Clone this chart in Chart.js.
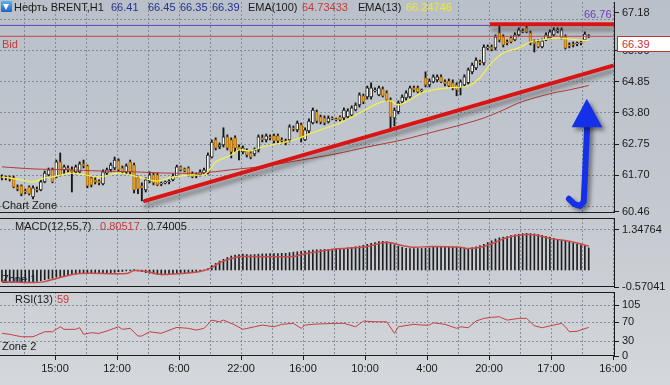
<!DOCTYPE html>
<html><head><meta charset="utf-8">
<script src="https://cdn.jsdelivr.net/npm/chart.js@4.4.1/dist/chart.umd.min.js"></script>
<style>
html,body{margin:0;padding:0;}
body{width:670px;height:385px;overflow:hidden;position:relative;
 background:linear-gradient(180deg,#b9c0c9 0%,#c3c8cf 50%,#d4d7db 100%);
 font-family:"Liberation Sans",Arial,sans-serif;font-size:11px;color:#1a1a1a;}
canvas{position:absolute;left:0;}
.t{position:absolute;white-space:nowrap;line-height:12px;font-size:11px;}
#icon{position:absolute;left:1px;top:1px;width:11px;height:11px;background:linear-gradient(#5eb0f0,#1c64c4);border-radius:1px;}
#icon:after{content:"";position:absolute;left:2px;top:3px;border-left:3.5px solid transparent;border-right:3.5px solid transparent;border-top:6px solid #fff;}
#pbox{position:absolute;left:617px;top:36px;width:51px;height:14px;background:#fff;border:1px solid #c03434;color:#c03434;line-height:14px;padding-left:4px;box-sizing:content-box;}
</style></head><body>
<div class="t" style="left:2px;top:273px;">Zone 1</div>
<canvas id="cMain" width="670" height="250" style="top:-20px"></canvas>
<canvas id="cMacd" width="670" height="100" style="top:200px"></canvas>
<canvas id="cRsi" width="670" height="115" style="top:270px"></canvas>

<div id="icon"></div>
<div class="t" style="left:14px;top:1px;">Нефть BRENT,H1</div>
<div class="t" style="left:111px;top:1px;color:#26308c">66.41</div>
<div class="t" style="left:148px;top:1px;color:#26308c">66.45</div>
<div class="t" style="left:180px;top:1px;color:#26308c">66.35</div>
<div class="t" style="left:212px;top:1px;color:#26308c">66.39</div>
<div class="t" style="left:248px;top:1px;">EMA(100)</div>
<div class="t" style="left:302px;top:1px;color:#c83a3a">64.73433</div>
<div class="t" style="left:358px;top:1px;">EMA(13)</div>
<div class="t" style="left:406px;top:1px;color:#ecea2c">66.24746</div>
<div class="t" style="left:584px;top:8px;color:#6a3db8">66.76</div>
<div class="t" style="left:2px;top:38px;color:#c83a3a">Bid</div>
<div class="t" style="left:2px;top:199px;">Chart Zone</div>
<div class="t" style="left:15px;top:220px;">MACD(12,55,7)</div>
<div class="t" style="left:100px;top:220px;color:#c83a3a">0.80517</div>
<div class="t" style="left:147px;top:220px;">0.74005</div>
<div class="t" style="left:15px;top:293px;">RSI(13)</div>
<div class="t" style="left:57px;top:293px;color:#c83a3a">59</div>
<div class="t" style="left:2px;top:340px;">Zone 2</div>
<div id="pbox">66.39</div>

<script>
// ---------- DATA ----------
const xTickLabels = ['15:00','12:00','6:00','22:00','16:00','10:00','4:00','20:00','17:00','16:00'];

const opens = [61.64,61.61,61.64,61.61,61.30,61.34,61.17,61.30,60.96,61.23,
61.20,61.47,61.71,61.88,61.64,62.15,61.88,61.94,61.88,61.81,
61.81,62.08,62.01,61.61,61.54,61.50,61.40,61.77,61.88,61.94,
62.18,61.94,61.81,62.15,62.04,61.61,61.34,61.20,61.50,61.71,
61.71,61.40,61.44,61.47,61.54,61.67,61.98,61.91,61.94,61.74,
61.67,61.71,61.77,61.77,62.31,62.89,62.65,62.72,62.99,62.89,
62.96,62.65,62.48,62.55,62.45,62.42,62.55,62.96,62.89,62.99,
63.03,63.03,62.89,62.86,62.89,63.30,63.23,63.40,62.89,63.19,
63.46,63.84,63.67,63.63,63.50,63.63,63.60,63.67,63.63,63.67,
63.73,63.90,64.07,64.38,64.34,64.34,64.55,64.41,64.61,64.48,
64.24,63.63,63.84,64.17,64.31,64.34,64.65,64.65,64.55,64.99,
64.75,64.85,64.92,65.02,64.85,64.88,64.82,64.75,64.65,64.75,
64.82,65.19,65.32,65.53,65.49,66.00,66.03,66.00,66.51,66.37,
66.20,66.34,66.27,66.44,66.57,66.68,66.51,66.20,66.20,66.03,
66.27,66.34,66.44,66.57,66.34,66.37,66.10,66.13,66.13,66.20,
66.27,66.41];
const closes = [61.61,61.64,61.57,61.30,61.23,61.07,61.13,61.07,61.27,61.20,
61.47,61.77,61.88,61.47,62.15,61.71,61.98,61.88,61.81,61.98,
62.08,62.01,61.34,61.37,61.47,61.44,61.81,61.88,62.04,62.21,
61.88,61.81,62.01,61.81,61.20,61.23,61.27,61.54,61.71,61.44,
61.37,61.42,61.47,61.50,61.67,61.98,61.88,61.84,61.71,61.64,
61.71,61.81,61.88,62.38,62.82,62.62,62.72,62.99,62.62,62.48,
62.62,62.55,62.62,62.38,62.31,62.55,62.99,62.89,63.03,62.96,
62.86,62.86,62.86,62.79,63.33,63.26,63.46,62.96,63.23,63.53,
63.90,63.53,63.50,63.46,63.63,63.60,63.57,63.57,63.90,63.87,
63.97,64.07,64.41,64.17,64.65,64.65,64.58,64.65,64.38,64.24,
63.67,63.90,64.14,64.34,64.48,64.65,64.58,64.51,64.58,64.75,
64.88,65.02,65.02,64.85,64.78,64.71,64.65,64.58,64.85,65.02,
65.26,65.42,65.59,65.49,66.03,66.03,65.96,66.37,66.27,66.10,
66.17,66.20,66.44,66.61,66.54,66.54,66.17,66.13,66.03,66.24,
66.44,66.54,66.61,66.61,66.61,66.00,66.07,66.10,66.17,66.17,
66.47,66.39];
const highs = [61.71,61.67,61.67,61.67,61.37,61.37,61.23,61.34,61.34,61.30,
61.54,61.84,61.94,61.94,62.21,62.45,62.04,62.01,61.98,62.04,
62.15,62.21,62.04,61.64,61.61,61.54,61.88,61.94,62.11,62.31,
62.25,62.01,62.08,62.21,62.11,61.67,61.44,61.61,61.81,61.77,
61.77,61.47,61.50,61.54,61.74,62.04,62.01,61.94,61.98,61.81,
61.77,61.88,61.94,62.45,62.89,62.96,62.79,63.30,63.06,62.96,
63.03,62.72,62.69,62.59,62.52,62.62,63.06,63.06,63.09,63.06,
63.09,63.09,62.96,62.92,63.40,63.36,63.53,63.46,63.30,63.60,
63.97,63.90,63.73,63.70,63.70,63.67,63.63,63.70,63.97,63.94,
64.04,64.14,64.48,64.44,64.71,64.82,64.65,64.71,64.68,64.55,
64.31,63.97,64.21,64.41,64.55,64.71,64.71,64.71,64.61,65.19,
64.95,65.09,65.09,65.09,64.92,64.95,64.92,64.82,64.92,65.09,
65.32,65.49,65.66,65.59,66.10,66.10,66.10,66.44,66.78,66.44,
66.27,66.40,66.51,66.68,66.64,66.74,66.57,66.27,66.27,66.30,
66.51,66.61,66.68,66.68,66.68,66.44,66.17,66.20,66.20,66.24,
66.54,66.45];
const lows = [61.54,61.54,61.50,61.27,61.17,61.00,61.07,61.03,60.90,61.13,
61.17,61.44,61.67,61.44,61.61,61.67,61.74,61.81,61.13,61.74,
61.77,61.94,61.27,61.30,61.40,61.37,61.37,61.71,61.81,61.88,
61.81,61.74,61.74,61.74,61.10,61.07,60.83,61.13,61.44,61.37,
61.34,61.34,61.40,61.40,61.50,61.64,61.84,61.81,61.67,61.61,
61.61,61.67,61.74,61.74,62.28,62.55,62.59,62.65,62.55,62.28,
62.48,62.21,62.42,62.31,62.25,62.35,62.48,62.82,62.82,62.89,
62.79,62.79,62.79,62.72,62.82,63.19,63.16,62.82,62.86,63.13,
63.43,63.46,63.43,63.40,63.46,63.57,63.53,63.53,63.57,63.63,
63.70,63.87,64.00,64.11,64.27,64.27,64.51,64.38,64.34,64.21,
63.23,63.36,63.77,64.11,64.24,64.31,64.51,64.48,64.48,64.68,
64.68,64.82,64.85,64.82,64.71,64.68,64.58,64.38,64.41,64.71,
64.78,65.12,65.26,65.42,65.42,65.93,65.90,65.93,66.20,66.03,
66.10,66.17,66.24,66.40,66.51,66.51,66.10,65.86,66.00,66.00,
66.24,66.30,66.40,66.51,66.30,65.96,66.00,66.03,66.07,66.10,
66.24,66.35];

// [candle index, value]
const ema13 = [[0,61.64],[5,61.54],[8,61.47],[11,61.61],[13,61.64],[18,61.77],[25,61.64],[30,61.77],
[35,61.64],[40,61.50],[44,61.64],[49,61.71],[52,61.71],[54,61.98],[55,62.15],[59,62.38],[61,62.55],
[64,62.52],[67,62.65],[72,62.79],[76,62.92],[79,63.09],[82,63.23],[87,63.46],[92,63.80],[97,64.14],
[100,64.21],[102,64.07],[105,64.24],[108,64.48],[111,64.58],[115,64.65],[120,64.71],[123,64.99],
[126,65.49],[129,65.83],[133,66.00],[136,66.20],[139,66.27],[143,66.34],[146,66.30],[148,66.27],[151,66.25]];
const ema100 = [[0,61.98],[8,61.91],[17,61.88],[25,61.84],[34,61.81],[42,61.77],[51,61.77],[59,61.88],
[68,62.01],[77,62.21],[86,62.42],[94,62.65],[103,62.89],[111,63.16],[117,63.36],[124,63.63],[129,63.90],
[133,64.14],[137,64.31],[142,64.48],[146,64.58],[151,64.73]];

const macdHist = [-0.38,-0.39,-0.40,-0.40,-0.39,-0.40,-0.41,-0.41,-0.40,-0.38,
-0.36,-0.33,-0.30,-0.28,-0.24,-0.22,-0.20,-0.18,-0.16,-0.14,
-0.12,-0.10,-0.11,-0.12,-0.12,-0.12,-0.11,-0.10,-0.10,-0.08,
-0.06,-0.05,-0.03,-0.02,0.01,-0.03,-0.06,-0.09,-0.11,-0.13,
-0.15,-0.16,-0.15,-0.14,-0.13,-0.12,-0.11,-0.10,-0.09,-0.08,
-0.07,-0.05,-0.02,0.05,0.15,0.22,0.30,0.36,0.42,0.47,
0.50,0.52,0.53,0.52,0.51,0.52,0.53,0.54,0.54,0.55,
0.55,0.55,0.56,0.56,0.58,0.60,0.61,0.63,0.63,0.65,
0.67,0.68,0.68,0.69,0.69,0.70,0.72,0.72,0.73,0.74,
0.76,0.78,0.80,0.83,0.86,0.89,0.92,0.95,0.96,0.95,
0.90,0.85,0.80,0.76,0.73,0.72,0.72,0.72,0.72,0.73,
0.74,0.76,0.78,0.78,0.78,0.78,0.77,0.77,0.76,0.74,
0.72,0.74,0.78,0.82,0.86,0.92,0.98,1.04,1.08,1.10,
1.12,1.15,1.18,1.20,1.22,1.23,1.22,1.21,1.19,1.16,
1.13,1.10,1.06,1.03,1.00,0.96,0.93,0.90,0.87,0.84,
0.80,0.74];
const macdSignal = [[0,-0.39],[8,-0.42],[11,-0.39],[15,-0.25],[20,-0.12],[32,-0.12],[34,-0.02],[37,-0.05],
[41,-0.15],[46,-0.12],[51,-0.05],[54,0.08],[56,0.25],[60,0.42],[62,0.45],[75,0.45],[77,0.52],[85,0.69],
[94,0.79],[99,0.93],[103,0.82],[106,0.76],[111,0.79],[118,0.76],[120,0.72],[124,0.79],[127,0.93],
[130,1.09],[135,1.19],[138,1.16],[141,1.06],[146,0.96],[151,0.805]];

const rsi = [[0,46.7],[2,44.7],[5,39.7],[8,39.7],[11,50],[13,50],[15,60.3],[16,55],[19,55],[20,58.3],
[21,44.7],[23,48],[25,46.7],[27,51.5],[30,60.3],[31,55],[33,57],[35,41.2],[36,41.2],[38,50],[41,46.7],
[42,50],[45,59],[48,57],[50,53.5],[52,57],[54,74],[56,70.6],[57,74],[60,63.8],[62,55],[65,60.3],[67,63.8],
[70,60.3],[72,65.3],[75,67.3],[77,57],[78,63.8],[81,65.9],[86,67.3],[88,67.3],[91,60.3],[93,72],[96,70.6],
[99,70.6],[101,46.7],[102,60.3],[106,65.3],[108,63.8],[110,63.8],[111,68.6],[114,65.3],[117,57],[118,60.3],
[120,58.3],[122,72],[124,77.6],[126,79.7],[128,81],[130,74],[133,77.6],[135,77.6],[137,62.4],[139,58.3],
[142,63.8],[144,67.3],[145,60.3],[146,50],[148,51],[151,59]];

const priceGridLevels = [60.65,61.70,62.75,63.80,64.85,65.90,66.95];
const priceLabelLevels = [60.46,61.70,62.75,63.80,64.85,65.90,67.18];
const macdLevels = [-0.57041,1.34764];
const rsiLevels = [0,30,70,105];
const rsiGridLevels = [30,70,105];
const bidLevel = 66.39;
const highLevel = 66.76;
const trendLine = [[36.8,60.83],[157.0,65.39]];
const resistLine = [[125.6,66.80],[157.5,66.80]];
const arrowShaft = [[145.9,60.90],[147.3,60.72],[148.8,60.66],[149.7,60.80],[150.0,61.60],[150.3,62.50],[150.6,63.40]];
const arrowHead = [[146.6,63.32],[150.5,64.28],[154.5,63.32]];

// ---------- STYLE ----------
const GRID = 'rgba(120,130,145,0.85)';
const AXIS = '#1c1c1c';
const TXT = '#1a1a1a';
const CLEAR = 'rgba(0,0,0,0)';
const X_MIN = -0.5, X_MAX = 157.5, GRID_START = 5.68, GRID_STEP = 7.977, GRID_COUNT = 20;
Chart.defaults.font.family = '"Liberation Sans", Arial, sans-serif';
Chart.defaults.font.size = 11;
Chart.defaults.color = TXT;

const pts = arr => arr.map(p => ({x: p[0], y: p[1]}));

function xScale(showLabels){
  return {
    type:'linear', min:X_MIN, max:X_MAX, offset:false,
    afterBuildTicks: s => { s.ticks = Array.from({length:GRID_COUNT}, (_, k) => ({value: GRID_START + k*GRID_STEP})); },
    afterFit: s => { s.height = showLabels ? 29 : 0; },
    border:{display:false, dash:[2,2]},
    grid:{color:GRID, lineWidth:1, drawTicks:showLabels, tickLength:4, tickWidth:1,
      tickColor: c => (c.index % 2 === 1) ? AXIS : CLEAR, offset:false},
    ticks:{display:showLabels, autoSkip:false, maxRotation:0, minRotation:0, padding:2, color:TXT,
      callback:(v, i) => (i % 2 === 1) ? xTickLabels[(i-1)/2] : ''}
  };
}
function yScale(min, max, tickVals, gridVals, fmt){
  return {
    position:'right', min, max, beginAtZero:false,
    afterFit: s => { s.width = 56; },
    afterBuildTicks: s => { s.ticks = tickVals.map(v => ({value:v})); },
    border:{display:false, dash:[2,2]},
    grid:{color: c => (c.tick && gridVals.includes(c.tick.value)) ? GRID : CLEAR,
      drawTicks:true, tickLength:5, tickWidth:1, tickColor: c => (c.tick && fmt(c.tick.value) !== '') ? AXIS : CLEAR},
    ticks:{autoSkip:false, padding:3, color:TXT, callback: v => fmt(v)}
  };
}
const panelBorder = {
  id:'panelBorder',
  afterDraw(chart, args, o){
    const {ctx, chartArea:a} = chart;
    ctx.save(); ctx.strokeStyle = AXIS; ctx.lineWidth = 1; ctx.beginPath();
    if (o.top){ ctx.moveTo(0, Math.round(a.top)+0.5); ctx.lineTo(a.right, Math.round(a.top)+0.5); }
    if (o.bottom){ ctx.moveTo(0, Math.round(a.bottom)-0.5); ctx.lineTo(a.right, Math.round(a.bottom)-0.5); }
    ctx.moveTo(Math.round(a.right)+0.5, a.top); ctx.lineTo(Math.round(a.right)+0.5, a.bottom);
    ctx.stroke(); ctx.restore();
  }
};
const shadowPlugin = {
  id:'shadowLines',
  beforeDatasetDraw(chart, args){
    const ds = chart.data.datasets[args.index];
    if (ds.shadow){ const c = chart.ctx; c.save(); c.shadowColor='rgba(40,40,40,0.45)'; c.shadowOffsetX=1; c.shadowOffsetY=5; c.shadowBlur=4; }
  },
  afterDatasetDraw(chart, args){
    const ds = chart.data.datasets[args.index];
    if (ds.shadow) chart.ctx.restore();
  }
};
const arrowPlugin = {
  id:'arrow',
  afterDatasetsDraw(chart){
    const {ctx, scales:{x, y}} = chart;
    const P = p => [x.getPixelForValue(p[0]), y.getPixelForValue(p[1])];
    ctx.save();
    ctx.shadowColor='rgba(0,0,0,0.45)'; ctx.shadowOffsetX=3; ctx.shadowOffsetY=3; ctx.shadowBlur=4;
    ctx.strokeStyle='#1430e8'; ctx.fillStyle='#1430e8';
    ctx.lineWidth=6; ctx.lineCap='round'; ctx.lineJoin='round';
    ctx.beginPath();
    arrowShaft.forEach((p,i) => { const [px,py] = P(p); i ? ctx.lineTo(px,py) : ctx.moveTo(px,py); });
    ctx.stroke();
    ctx.beginPath();
    arrowHead.forEach((p,i) => { const [px,py] = P(p); i ? ctx.lineTo(px,py) : ctx.moveTo(px,py); });
    ctx.closePath(); ctx.fill();
    ctx.restore();
  }
};
const base = {responsive:false, animation:false, events:[], plugins:{legend:{display:false}, tooltip:{enabled:false}}};

// ---------- MAIN PRICE PANEL ----------
const bull = '#ffffff', bear = '#eea22c';
new Chart(document.getElementById('cMain'), {
  type:'bar',
  data:{datasets:[
    {type:'line', data:pts(trendLine), borderColor:'#d81414', borderWidth:4, pointRadius:0, shadow:true, order:0, borderCapStyle:'round'},
    {type:'line', data:pts(resistLine), borderColor:'#d81414', borderWidth:4, pointRadius:0, shadow:true, order:0},
    {type:'line', data:[{x:X_MIN,y:highLevel},{x:X_MAX,y:highLevel}], borderColor:'#6a3db8', borderWidth:1, pointRadius:0, order:1},
    {type:'line', data:[{x:X_MIN,y:bidLevel},{x:X_MAX,y:bidLevel}], borderColor:'#c84444', borderWidth:1, pointRadius:0, order:1},
    {type:'line', data:pts(ema13), borderColor:'#f4f24a', borderWidth:1.2, pointRadius:0, tension:0.3, order:2},
    {type:'line', data:pts(ema100), borderColor:'#b33636', borderWidth:1, pointRadius:0, tension:0.3, order:2},
    {type:'bar', data:opens.map((o,i)=>({x:i, y:[o, closes[i]]})), barThickness:3, grouped:false,
      backgroundColor:opens.map((o,i)=> closes[i] >= o ? bull : bear),
      borderColor:opens.map((o,i)=> closes[i] >= o ? '#262626' : '#a8700f'),
      borderWidth:1, borderSkipped:false, order:4},
    {type:'bar', data:highs.map((h,i)=>({x:i, y:[lows[i], h]})), barThickness:1.2, grouped:false,
      backgroundColor:'#151515', borderWidth:0, order:5}
  ]},
  options:Object.assign({}, base, {
    layout:{padding:{top:22, bottom:17, left:0, right:0}},
    scales:{
      x:xScale(false),
      y:yScale(60.42, 67.55, [60.46,60.65,61.70,62.75,63.80,64.85,65.90,66.95,67.18], priceGridLevels,
        v => priceLabelLevels.includes(v) ? v.toFixed(2) : '')
    },
    plugins:Object.assign({}, base.plugins, {panelBorder:{top:false, bottom:true}})
  }),
  plugins:[shadowPlugin, arrowPlugin, panelBorder]
});

// ---------- MACD PANEL ----------
new Chart(document.getElementById('cMacd'), {
  type:'bar',
  data:{datasets:[
    {type:'line', data:pts(macdSignal), borderColor:'#cc4a4a', borderWidth:1.5, pointRadius:0, tension:0.3, order:0},
    {type:'bar', data:macdHist.map((v,i)=>({x:i, y:v})), barThickness:1, grouped:false, backgroundColor:'#1e1e1e', order:1}
  ]},
  options:Object.assign({}, base, {
    layout:{padding:{top:18, bottom:13, left:0, right:0}},
    scales:{
      x:xScale(false),
      y:yScale(-0.57041, 1.743, macdLevels, [1.34764], v => macdLevels.includes(v) ? v.toFixed(5) : '')
    },
    plugins:Object.assign({}, base.plugins, {panelBorder:{top:true, bottom:true}})
  }),
  plugins:[panelBorder]
});

// ---------- RSI PANEL ----------
new Chart(document.getElementById('cRsi'), {
  type:'line',
  data:{datasets:[
    {data:pts(rsi), borderColor:'#c44040', borderWidth:1, pointRadius:0, tension:0}
  ]},
  options:Object.assign({}, base, {
    layout:{padding:{top:22, bottom:0, left:0, right:0}},
    scales:{
      x:xScale(true),
      y:yScale(0, 132, rsiLevels, rsiGridLevels, v => rsiLevels.includes(v) ? String(v) : '')
    },
    plugins:Object.assign({}, base.plugins, {panelBorder:{top:true, bottom:true}})
  }),
  plugins:[panelBorder]
});
</script>
</body></html>
